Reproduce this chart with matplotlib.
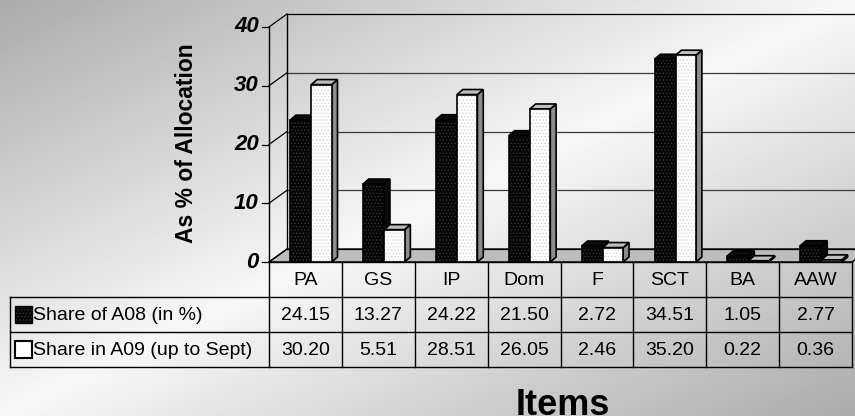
import numpy as np
import matplotlib
matplotlib.use('Agg')
import matplotlib.pyplot as plt
from matplotlib.patches import Polygon, Rectangle

plt.rcParams['font.family'] = ['Liberation Sans', 'DejaVu Sans']
plt.rcParams['hatch.linewidth'] = 0.5

# chart data
items = ['PA', 'GS', 'IP', 'Dom', 'F', 'SCT', 'BA', 'AAW']
share_a08 = [24.15, 13.27, 24.22, 21.50, 2.72, 34.51, 1.05, 2.77]
share_a09 = [30.20, 5.51, 28.51, 26.05, 2.46, 35.20, 0.22, 0.36]
series_names = ['Share of A08 (in %)', 'Share in A09 (up to Sept)']
yticks = [0, 10, 20, 30, 40]

W, H = 855, 416
fig = plt.figure(figsize=(W / 100, H / 100), dpi=100)

# diagonal grey-white-grey background
bg = fig.add_axes([0, 0, 1, 1], zorder=-10)
xx, yy = np.meshgrid(np.linspace(0, 1, 400), np.linspace(0, 1, 200))
t = np.abs((xx + yy) / 2 - 0.5) * 2
bg.imshow(0.97 - 0.30 * t, cmap='gray', vmin=0, vmax=1, aspect='auto',
          extent=[0, 1, 0, 1], origin='upper')
bg.axis('off')

# plot area (front plane)
n = len(items)
ax = fig.add_axes([269 / W, (H - 262) / H, 583 / W, 235 / H])
ax.set_xlim(-0.5, n - 0.5)
ax.set_ylim(0, 40)
ax.axis('off')
ax.patch.set_visible(False)

DX, DY = 0.247, 2.21       # wall depth
x_left, x_right = -0.5, n - 0.5

# floor
ax.add_patch(Polygon([(x_left, 0), (x_right, 0), (x_right + DX, DY), (x_left + DX, DY)],
                     closed=True, fc='#bdbdbd', ec='black', lw=1, clip_on=False, zorder=1))
for v in yticks:
    ax.plot([x_left, x_left + DX], [v, v + DY], color='black', lw=0.9, clip_on=False, zorder=1)
    ax.plot([x_left + DX, x_right + DX], [v + DY, v + DY],
            color='black' if v in (0, 40) else '#3a3a3a', lw=0.9, clip_on=False, zorder=1)
    ax.plot([x_left - 0.1, x_left], [v, v], color='black', lw=0.9, clip_on=False, zorder=1)
    ax.text(x_left - 0.14, v, str(v), ha='right', va='center', fontsize=16,
            fontweight='bold', fontstyle='italic')
ax.plot([x_left, x_left], [0, 40], color='black', lw=1, clip_on=False, zorder=1)
ax.plot([x_left + DX, x_left + DX], [DY, 40 + DY], color='black', lw=1, clip_on=False, zorder=1)

# 3d bars
bdx, bdy = 0.08, 0.85


def bar3d(x0, x1, v, face, dots, top, side, z):
    ax.add_patch(Polygon([(x1, 0), (x1 + bdx, bdy), (x1 + bdx, v + bdy), (x1, v)],
                         fc=side, ec='black', lw=1.2, zorder=z, clip_on=False))
    ax.add_patch(Polygon([(x0, v), (x0 + bdx, v + bdy), (x1 + bdx, v + bdy), (x1, v)],
                         fc=top, ec='black', lw=1.2, zorder=z, clip_on=False))
    ax.add_patch(Rectangle((x0, 0), x1 - x0, v, fc=face, ec=dots, hatch='.....',
                           lw=0, zorder=z + 0.1, clip_on=False))
    ax.add_patch(Rectangle((x0, 0), x1 - x0, v, fc='none', ec='black', lw=1.2,
                           zorder=z + 0.2, clip_on=False))


for i in range(n):
    bar3d(i - 0.21, i + 0.08, share_a08[i], '#050505', '#3c3c3c', '#0a0a0a', '#0a0a0a', 3 + i)
    bar3d(i + 0.08, i + 0.36, share_a09[i], 'white', '#cfcfcf', '#bebebe', '#8c8c8c', 3.5 + i)

# data table
tab = fig.add_axes([269 / W, (H - 367) / H, 583 / W, 105 / H])
tab.set_xlim(-0.5, n - 0.5)
tab.set_ylim(3, 0)
tab.axis('off')
tab.patch.set_visible(False)
LEFT = -0.5 - 259 / (583 / n)

kw = dict(color='black', lw=1, clip_on=False)
tab.plot([-0.5, n - 0.5], [0, 0], **kw)
for r in (1, 2, 3):
    tab.plot([LEFT, n - 0.5], [r, r], **kw)
for k in range(n + 1):
    tab.plot([k - 0.5, k - 0.5], [0, 3], **kw)
tab.plot([LEFT, LEFT], [1, 3], **kw)

for i, name in enumerate(items):
    tab.text(i, 0.52, name, ha='center', va='center', fontsize=14)
    tab.text(i, 1.52, f'{share_a08[i]:.2f}', ha='center', va='center', fontsize=14)
    tab.text(i, 2.52, f'{share_a09[i]:.2f}', ha='center', va='center', fontsize=14)

key_w = 17 / (583 / n)
tab.add_patch(Rectangle((LEFT + 0.07, 1.27), key_w, 0.46, fc='#050505', ec='#3c3c3c',
                        hatch='.....', lw=0, clip_on=False))
tab.add_patch(Rectangle((LEFT + 0.07, 1.27), key_w, 0.46, fc='none', ec='black', lw=1,
                        clip_on=False))
tab.add_patch(Rectangle((LEFT + 0.07, 2.27), key_w, 0.46, fc='white', ec='black', lw=1.5,
                        clip_on=False))
tab.text(LEFT + 0.32, 1.52, series_names[0], ha='left', va='center', fontsize=14)
tab.text(LEFT + 0.32, 2.52, series_names[1], ha='left', va='center', fontsize=14)

# axis titles
fig.text(186 / W, 1 - 143 / H, 'As % of Allocation', rotation=90, ha='center', va='center',
         fontsize=16.5, fontweight='bold')
fig.text(563 / W, 1 - 388 / H, 'Items', ha='center', va='top', fontsize=26, fontweight='bold')

fig.savefig('out.png', dpi=100)
